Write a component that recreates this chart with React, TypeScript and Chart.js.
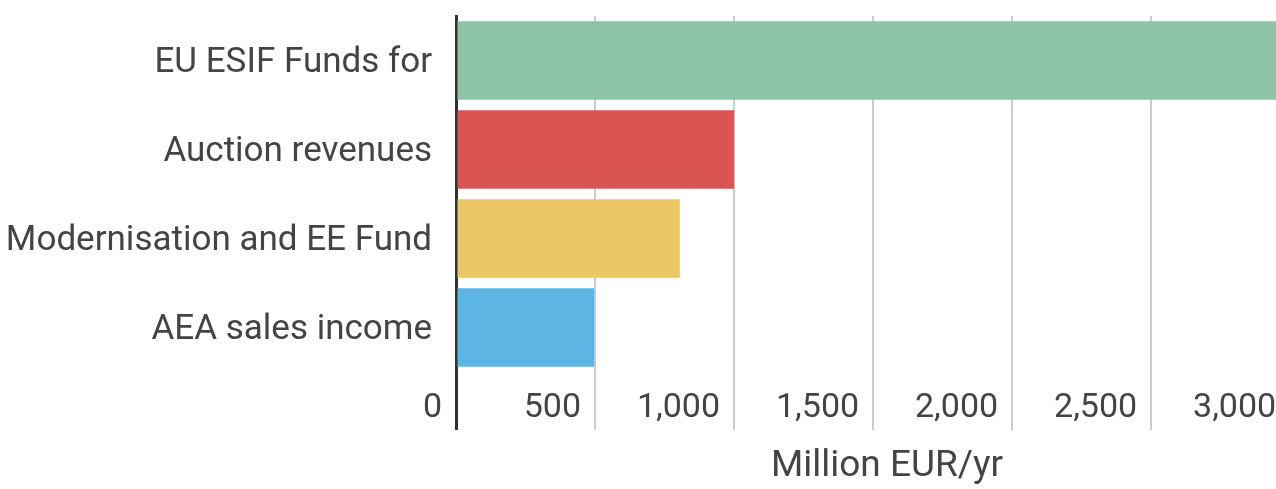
import React, { useEffect, useRef } from 'react';
import { Chart, registerables } from 'chart.js';

Chart.register(...registerables);

const categories = ['EU ESIF Funds for', 'Auction revenues', 'Modernisation and EE Fund', 'AEA sales income'];
const values = [3100, 1000, 805, 497];
const barColors = ['#8DC3A7', '#DB5454', '#ECC765', '#5DB5E3'];
const xTickValues = [0, 500, 1000, 1500, 2000, 2500, 3000];
const xMax = 3100;
const axisTitle = 'Million EUR/yr';

const CANVAS_W = 1318;
const CANVAS_H = 489;

export default function App() {
  const ref = useRef<HTMLCanvasElement | null>(null);

  useEffect(() => {
    const canvas = ref.current;
    if (!canvas) return;
    Chart.defaults.font.family = 'Roboto';
    const chart = new Chart(canvas, {
      type: 'bar',
      data: {
        labels: categories,
        datasets: [
          {
            data: values,
            backgroundColor: barColors,
            borderWidth: 0,
            barPercentage: 0.88,
            categoryPercentage: 1,
          },
        ],
      },
      options: {
        indexAxis: 'y',
        responsive: false,
        animation: false,
        devicePixelRatio: 1,
        layout: { padding: { top: 16, right: 0, bottom: 0, left: 0 } },
        plugins: { legend: { display: false }, tooltip: { enabled: false } },
        scales: {
          x: {
            type: 'linear',
            min: 0,
            max: xMax,
            afterBuildTicks: (axis: any) => {
              axis.ticks = xTickValues.map((v) => ({ value: v }));
            },
            afterFit: (axis: any) => {
              axis.height = 117;
              axis.paddingLeft = 0;
              axis.paddingRight = 0;
            },
            border: { display: false },
            grid: {
              drawOnChartArea: true,
              drawTicks: true,
              tickLength: 58,
              color: (ctx: any) => (ctx.tick && ctx.tick.value === 0 ? '#333333' : '#cccccc'),
              tickColor: (ctx: any) => (ctx.tick && ctx.tick.value === 0 ? '#333333' : '#cccccc'),
              lineWidth: (ctx: any) => (ctx.tick && ctx.tick.value === 0 ? 3 : 2),
            },
            ticks: {
              align: 'end',
              padding: -42,
              labelOffset: -14,
              autoSkip: false,
              maxRotation: 0,
              color: '#444444',
              font: { size: 34 },
              callback: (v: any) => Number(v).toLocaleString('en-US'),
            },
            title: {
              display: true,
              text: axisTitle,
              color: '#444444',
              font: { size: 37 },
              padding: { top: 0, bottom: 0 },
            },
          },
          y: {
            afterFit: (axis: any) => {
              axis.width = 456;
              axis.paddingTop = 0;
              axis.paddingBottom = 0;
            },
            grid: { display: false, drawTicks: false },
            border: { display: true, color: '#333333', width: 3 },
            ticks: {
              padding: 24,
              labelOffset: 3,
              color: '#444444',
              font: { size: 35 },
            },
          },
        },
      },
    } as any);
    return () => chart.destroy();
  }, []);

  return (
    <div
      style={{
        position: 'fixed',
        left: 0,
        top: 0,
        width: 1276,
        height: CANVAS_H,
        overflow: 'hidden',
        background: '#ffffff',
      }}
    >
      <canvas
        ref={ref}
        width={CANVAS_W}
        height={CANVAS_H}
        style={{ width: CANVAS_W, height: CANVAS_H, display: 'block' }}
      />
    </div>
  );
}
